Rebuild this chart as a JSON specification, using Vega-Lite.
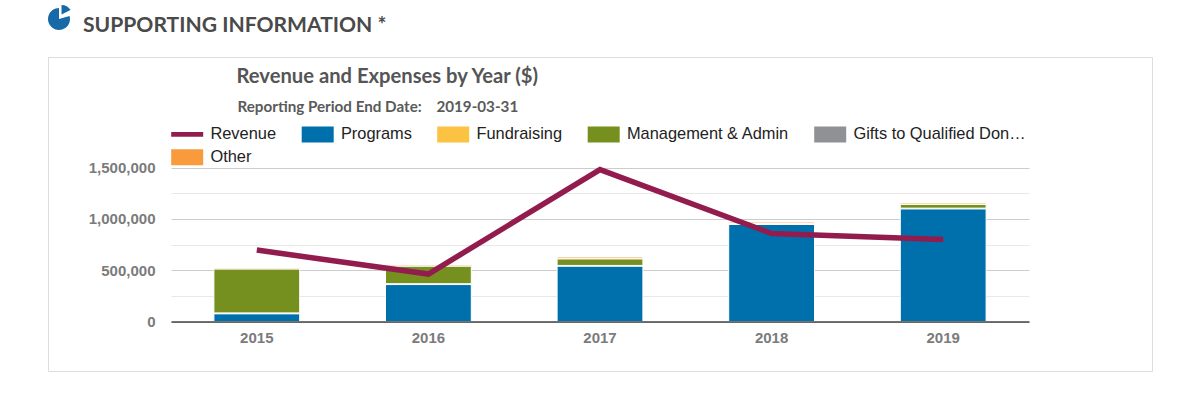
{
"$schema":"https://vega.github.io/schema/vega-lite/v6.json",
"width":1104,"height":314,
"autosize":{"type":"none"},
"padding":{"left":48,"top":57,"right":48,"bottom":43},
"background":"#ffffff",
"config":{"view":{"stroke":"#dddddd","strokeWidth":1}},
"title":{"text":"SUPPORTING INFORMATION *","anchor":"start","frame":"group","dx":35,"offset":-28,"font":"Lato","fontSize":21.1,"fontWeight":"bold","color":"#4a4a4a"},
"layer":[
{"data":{"values":[
{"year":"2015","series":"Programs","rank":1,"value":76000},
{"year":"2015","series":"Fundraising","rank":2,"value":8000},
{"year":"2015","series":"Management & Admin","rank":3,"value":430000},
{"year":"2015","series":"Gifts to Qualified Donees","rank":4,"value":0},
{"year":"2015","series":"Other","rank":5,"value":12000},
{"year":"2016","series":"Programs","rank":1,"value":360000},
{"year":"2016","series":"Fundraising","rank":2,"value":8000},
{"year":"2016","series":"Management & Admin","rank":3,"value":174000},
{"year":"2016","series":"Gifts to Qualified Donees","rank":4,"value":0},
{"year":"2016","series":"Other","rank":5,"value":13000},
{"year":"2017","series":"Programs","rank":1,"value":540000},
{"year":"2017","series":"Fundraising","rank":2,"value":6000},
{"year":"2017","series":"Management & Admin","rank":3,"value":66000},
{"year":"2017","series":"Gifts to Qualified Donees","rank":4,"value":0},
{"year":"2017","series":"Other","rank":5,"value":16000},
{"year":"2018","series":"Programs","rank":1,"value":945000},
{"year":"2018","series":"Fundraising","rank":2,"value":4000},
{"year":"2018","series":"Management & Admin","rank":3,"value":8000},
{"year":"2018","series":"Gifts to Qualified Donees","rank":4,"value":0},
{"year":"2018","series":"Other","rank":5,"value":12000},
{"year":"2019","series":"Programs","rank":1,"value":1098000},
{"year":"2019","series":"Fundraising","rank":2,"value":6000},
{"year":"2019","series":"Management & Admin","rank":3,"value":38000},
{"year":"2019","series":"Gifts to Qualified Donees","rank":4,"value":0},
{"year":"2019","series":"Other","rank":5,"value":12000}
]},
"mark":{"type":"bar","stroke":"#ffffff","strokeWidth":1},
"encoding":{
"x":{"field":"year","type":"nominal","sort":null,
"scale":{"range":[123,981],"paddingInner":0.5,"paddingOuter":0.25},
"axis":{"title":"Reporting Period End Date:\u00a0\u00a0\u00a0\u00a02019-03-31","titleX":189,"titleY":-215.5,"titleAlign":"left","titleBaseline":"middle","titleFont":"Lato","titleFontSize":15.2,"titleFontWeight":"bold","titleColor":"#5a5a5a","offset":-49.5,"grid":false,"ticks":false,"labelAngle":0,"labelPadding":9,"labelFont":"Liberation Sans","labelFontSize":15,"labelFontWeight":"bold","labelColor":"#7b7b7b","domainColor":"#444444","domainWidth":1.5,"zindex":1}},
"y":{"field":"value","type":"quantitative","stack":"zero",
"scale":{"domain":[0,1500000],"range":[264.5,110.5],"nice":false},
"axis":{"title":"Revenue and Expenses by Year ($)","titleX":65,"titleY":19,"titleAngle":0,"titleAlign":"left","titleBaseline":"middle","titleFont":"Lato","titleFontSize":20.2,"titleFontWeight":"bold","titleColor":"#555555","offset":-123,"values":[0,250000,500000,750000,1000000,1250000,1500000],"labelExpr":"datum.value % 500000 === 0 ? format(datum.value, ',d') : ''","grid":true,"gridColor":{"condition":{"test":"datum.value % 500000 === 0","value":"#cccccc"},"value":"#e8e8e8"},"ticks":false,"domain":false,"labelPadding":16,"labelFont":"Liberation Sans","labelFontSize":15,"labelFontWeight":"bold","labelColor":"#7b7b7b"}},
"color":{"field":"series","type":"nominal",
"scale":{"domain":["Revenue","Programs","Fundraising","Management & Admin","Gifts to Qualified Donees","Other"],"range":["#931c4e","#0070ad","#fcc242","#76901f","#8f9295","#f99a3c"]}},
"order":{"field":"rank","type":"quantitative"}
}},
{"data":{"values":[
{"year":"2015","series":"Revenue","value":696000},
{"year":"2016","series":"Revenue","value":462000},
{"year":"2017","series":"Revenue","value":1480000},
{"year":"2018","series":"Revenue","value":857000},
{"year":"2019","series":"Revenue","value":798000}
]},
"mark":{"type":"line","strokeWidth":5.5,"strokeJoin":"miter"},
"encoding":{
"x":{"field":"year","type":"nominal","sort":null},
"y":{"field":"value","type":"quantitative"},
"color":{"field":"series","type":"nominal"}
}},
{"data":{"values":[]},
"mark":{"type":"point","filled":true,"opacity":1},
"encoding":{
"color":{"field":"series","type":"nominal",
"legend":{"title":null,"orient":"none","direction":"horizontal","legendX":123,"legendY":69,"columns":5,"gridAlign":"each","columnPadding":24.5,"rowPadding":6,"padding":0,"symbolSize":256,"labelOffset":23,"labelLimit":175,"labelFont":"Liberation Sans","labelFontSize":16.4,"labelColor":"#222222","symbolStrokeWidth":0,"symbolOpacity":1}},
"shape":{"field":"series","type":"nominal",
"scale":{"domain":["Revenue","Programs","Fundraising","Management & Admin","Gifts to Qualified Donees","Other"],"range":["M-1,-0.3H3V0.3H-1Z","M-1,-1H3V1H-1Z","M-1,-1H3V1H-1Z","M-1,-1H3V1H-1Z","M-1,-1H3V1H-1Z","M-1,-1H3V1H-1Z"]},
"legend":{"title":null,"orient":"none","direction":"horizontal","legendX":123,"legendY":69,"columns":5,"gridAlign":"each","columnPadding":24.5,"rowPadding":6,"padding":0,"symbolSize":256,"labelOffset":23,"labelLimit":175,"labelFont":"Liberation Sans","labelFontSize":16.4,"labelColor":"#222222","symbolStrokeWidth":0,"symbolOpacity":1}}
}},
{"data":{"values":[]},
"mark":{"type":"point","filled":true,"opacity":1},
"encoding":{
"fill":{"field":"icon","type":"nominal",
"scale":{"domain":["icon"],"range":["#1769a8"]},
"legend":{"title":null,"orient":"none","legendX":0,"legendY":-49,"padding":0,"symbolSize":484,"symbolOpacity":1,"symbolStrokeWidth":0,"symbolType":"M0,-1A1,1 0 1 0 0.96,-0.28L0,0ZM0.23,-0.41L0.23,-1.27A0.95,0.95 0 0 1 1.05,-0.82Z","labelExpr":"''"}}
}}
]
}
